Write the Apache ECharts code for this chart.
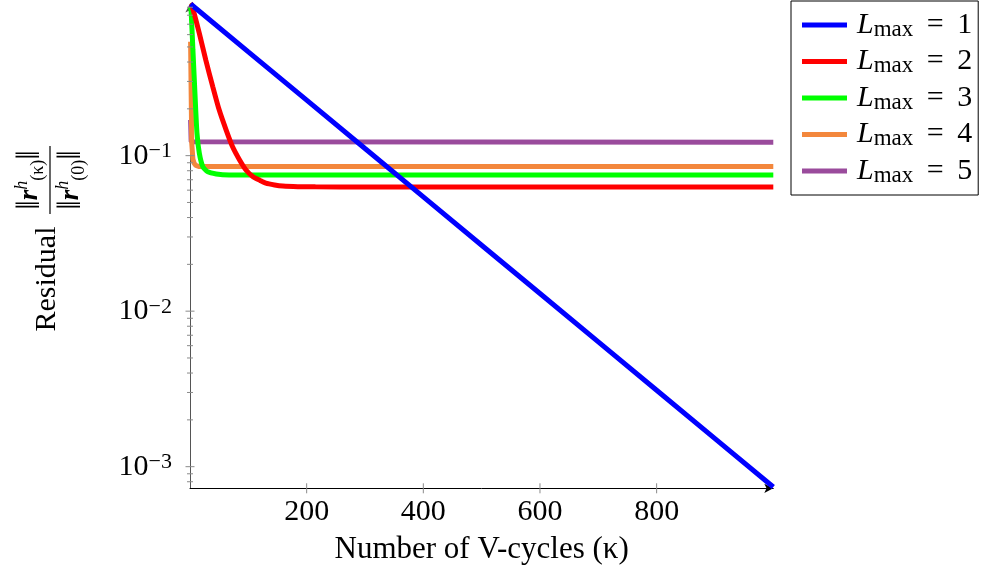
<!DOCTYPE html>
<html>
<head>
<meta charset="utf-8">
<script src="https://cdn.jsdelivr.net/npm/echarts@6/dist/echarts.min.js"></script>
<style>
html,body{margin:0;padding:0;background:#fff;}
#chart{width:982px;height:583px;}
</style>
</head>
<body>
<div id="chart"></div>
<script>
// ---- data ----
const levels = [1, 2, 3, 4, 5];
const colors = ['#0000ff', '#ff0000', '#00ff00', '#f3873c', '#9a4b9c'];

const blueX = [1, 100, 200, 300, 400, 500, 600, 700, 800, 900, 1000];
const blueY = [0.945, 0.465, 0.2275, 0.1111, 0.0543, 0.02655, 0.01298, 0.006344, 0.0031, 0.001515, 0.00074];

const redX = [1, 3, 16, 27, 39, 50, 62, 73, 85, 96, 108, 120, 130, 145, 159, 185, 215, 300, 500, 1000];
const redY = [0.95, 0.93, 0.612, 0.4125, 0.278, 0.197, 0.146, 0.114, 0.0938, 0.0809, 0.0732, 0.0693, 0.0665, 0.0648, 0.0638, 0.0632, 0.063, 0.0629, 0.0629, 0.0629];

const greenX = [1, 2, 5, 9, 12, 16, 22, 30, 45, 67, 1000];
const greenY = [0.9, 0.84, 0.478, 0.228, 0.139, 0.1036, 0.0849, 0.0789, 0.0762, 0.0751, 0.0751];

const orangeX = [1, 2, 3, 5, 7, 10, 16, 1000];
const orangeY = [0.54, 0.25, 0.12, 0.095, 0.0893, 0.0865, 0.085, 0.085];

const purpleX = [1, 2, 3, 1000];
const purpleY = [0.17, 0.123, 0.122, 0.122];

const xTicks = [200, 400, 600, 800];
const yMajorTicks = [0.001, 0.01, 0.1];
const yLabels = {'0.001': '10{sup|−3}', '0.01': '10{sup|−2}', '0.1': '10{sup|−1}'};
const xMin = 0, xMax = 1000, yMin = 0.000726, yMax = 0.95;

// ---- build ----
const FONT = 'Liberation Serif';
const seriesXY = [[blueX, blueY], [redX, redY], [greenX, greenY], [orangeX, orangeY], [purpleX, purpleY]];
const names = levels.map(l => 'Lmax = ' + l);

const lineSeries = seriesXY.map((xy, i) => ({
  name: names[i],
  type: 'line',
  data: xy[0].map((x, j) => [x, xy[1][j]]),
  showSymbol: false,
  smooth: (i === 1 || i === 2) ? 0.2 : false,
  lineStyle: { color: colors[i], width: 5 },
  itemStyle: { color: colors[i] },
  z: 10 - i,
  animation: false
}));

// tick marks (major + minor on log y; major on x)
const tickData = [];
yMajorTicks.forEach(v => tickData.push([xMin, v, 'y', 4.5]));
for (let e = -4; e <= 0; e++) {
  for (let k = 2; k <= 9; k++) {
    const v = k * Math.pow(10, e);
    if (v > yMin && v < yMax) tickData.push([xMin, v, 'y', 3]);
  }
}
xTicks.forEach(x => tickData.push([x, yMin, 'x', 5]));

const tickSeries = {
  type: 'custom',
  silent: true,
  clip: false,
  z: 20,
  animation: false,
  data: tickData,
  encode: { x: 0, y: 1 },
  renderItem: function (params, api) {
    const p = api.coord([api.value(0), api.value(1)]);
    const kind = tickData[params.dataIndex][2];
    const len = tickData[params.dataIndex][3];
    const shape = kind === 'y'
      ? { x1: p[0] - len, y1: p[1], x2: p[0] + len, y2: p[1] }
      : { x1: p[0], y1: p[1] - len, x2: p[0], y2: p[1] + len };
    return { type: 'line', shape: shape, style: { stroke: '#8a8a8a', lineWidth: 1 } };
  }
};

const fracRich = {
  b: { fontFamily: FONT, fontSize: 27, fontWeight: 'bold', fontStyle: 'italic', fill: '#000' },
  sup: { fontFamily: FONT, fontSize: 18, fontStyle: 'italic', verticalAlign: 'top', lineHeight: 16, fill: '#000' },
  sub: { fontFamily: FONT, fontSize: 18, verticalAlign: 'bottom', lineHeight: 16, fill: '#000' },
  bar: { fontFamily: FONT, fontSize: 34, fill: '#000' }
};

const chart = echarts.init(document.getElementById('chart'), null, { renderer: 'canvas' });
chart.setOption({
  backgroundColor: '#ffffff',
  animation: false,
  textStyle: { fontFamily: FONT },
  grid: { left: 190, right: 208.7, top: 3.6, bottom: 94.7, containLabel: false },
  xAxis: {
    type: 'value',
    min: xMin, max: xMax, interval: 200,
    splitLine: { show: false },
    axisTick: { show: false },
    axisLine: { show: true, onZero: false, lineStyle: { color: '#000', width: 1 }, symbol: ['none', 'arrow'], symbolSize: [7, 9] },
    axisLabel: {
      margin: 9,
      color: '#000', fontFamily: FONT, fontSize: 30,
      formatter: v => (v === 0 || v === 1000) ? '' : String(v)
    },
    name: 'Number of V-cycles (κ)',
    nameLocation: 'middle',
    nameGap: 46,
    nameTextStyle: { color: '#000', fontFamily: FONT, fontSize: 31 }
  },
  yAxis: {
    type: 'log',
    logBase: 10,
    min: yMin, max: yMax,
    splitLine: { show: false },
    axisTick: { show: false },
    minorTick: { show: false },
    axisLine: { show: true, lineStyle: { color: '#555', width: 1 }, symbol: ['none', 'arrow'], symbolSize: [7, 9] },
    axisLabel: {
      margin: 18,
      color: '#000', fontFamily: FONT, fontSize: 30,
      showMinLabel: false, showMaxLabel: false,
      formatter: function (v) {
        for (const t of yMajorTicks) { if (Math.abs(v - t) / t < 1e-6) return yLabels[String(t)]; }
        return '';
      },
      rich: {
        sup: { fontSize: 22, fontFamily: FONT, verticalAlign: 'top', lineHeight: 22, color: '#000' }
      }
    }
  },
  legend: {
    data: names,
    orient: 'vertical',
    left: 791, top: 1,
    padding: [9, 6, 8, 11],
    borderColor: '#000', borderWidth: 1,
    itemGap: 5.5,
    itemWidth: 45, itemHeight: 5,
    icon: 'rect',
    formatter: function (name) {
      const l = name.slice(-1);
      return '{i|L}{s|max}{n| \u2009=\u2009 ' + l + '}';
    },
    textStyle: {
      padding: [0, 0, 0, 5],
      color: '#000',
      fontFamily: FONT,
      rich: {
        i: { fontStyle: 'italic', fontSize: 30, fontFamily: FONT, lineHeight: 32, color: '#000' },
        s: { fontSize: 23, fontFamily: FONT, verticalAlign: 'bottom', lineHeight: 20, color: '#000' },
        n: { fontSize: 30, fontFamily: FONT, lineHeight: 32, color: '#000' }
      }
    }
  },
  graphic: [
    {
      type: 'text', x: 47, y: 279, rotation: Math.PI / 2,
      style: { text: 'Residual', fontFamily: FONT, fontSize: 30, fill: '#000', align: 'center', verticalAlign: 'middle' }
    },
    {
      type: 'text', x: 30, y: 180, rotation: Math.PI / 2,
      style: {
        text: '{bar|‖}{b|r}{sup|h}{sub|(κ)}{bar|‖}', fontFamily: FONT, fontSize: 26, fill: '#000', align: 'center', verticalAlign: 'middle',
        rich: fracRich
      }
    },
    {
      type: 'line', shape: { x1: 50, y1: 146, x2: 50, y2: 214 }, style: { stroke: '#000', lineWidth: 1.2 }
    },
    {
      type: 'text', x: 71, y: 180, rotation: Math.PI / 2,
      style: {
        text: '{bar|‖}{b|r}{sup|h}{sub|(0)}{bar|‖}', fontFamily: FONT, fontSize: 26, fill: '#000', align: 'center', verticalAlign: 'middle',
        rich: fracRich
      }
    }
  ],
  series: lineSeries.concat([tickSeries])
});
</script>
</body>
</html>
